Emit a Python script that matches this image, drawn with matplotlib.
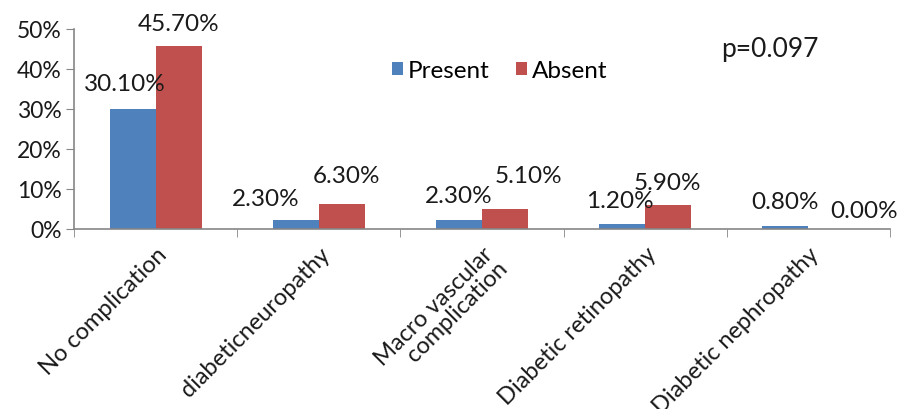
import matplotlib.pyplot as plt
import numpy as np

categories = ['No complication', 'diabeticneuropathy', 'Macro vascular\ncomplication',
              'Diabetic retinopathy', 'Diabetic nephropathy']
present = [30.1, 2.3, 2.3, 1.2, 0.8]
absent = [45.7, 6.3, 5.1, 5.9, 0.0]

# label nudges in pixels (dx, dy) from the top of each bar
present_off = [(-8, 25), (-30, 21), (0, 24), (-2, 24), (0, 24)]
absent_off = [(0, 23), (5, 28), (23, 33), (-1, 23), (33, 19)]

plt.rcParams['font.family'] = ['Lato', 'DejaVu Sans']

blue = '#4F81BD'
red = '#C0504D'
grey = '#868686'
txt = '#1a1a1a'

fig = plt.figure(figsize=(8.98, 4.10), dpi=100)
ax = fig.add_axes([74 / 898, 1 - 230 / 410, (890 - 74) / 898, 200 / 410])

x = np.arange(len(categories))
w = 0.282
ax.bar(x - w / 2, present, w, color=blue, label='Present')
ax.bar(x + w / 2, absent, w, color=red, label='Absent')

for xi, v, off in zip(x - w / 2, present, present_off):
    ax.annotate('%.2f%%' % v, (xi, v), xytext=off, textcoords='offset pixels',
                ha='center', va='center', fontsize=17.5, color=txt)
for xi, v, off in zip(x + w / 2, absent, absent_off):
    ax.annotate('%.2f%%' % v, (xi, v), xytext=off, textcoords='offset pixels',
                ha='center', va='center', fontsize=17.5, color=txt)

ax.set_xlim(-0.5, len(categories) - 0.5)
ax.set_ylim(0, 50)
ax.set_yticks(np.arange(0, 51, 10))
ax.set_yticklabels(['%d%%' % t for t in range(0, 51, 10)], fontsize=16.5, color=txt)

ax.set_xticks(x)
ax.set_xticklabels(categories, rotation=45, ha='right', va='top',
                   rotation_mode='anchor', fontsize=17, linespacing=0.95, color=txt)
ax.set_xticks(np.arange(-0.5, len(categories), 1), minor=True)
ax.tick_params(axis='x', which='major', length=0, pad=10)
ax.tick_params(axis='x', which='minor', length=6, color=grey, direction='out')
ax.tick_params(axis='y', length=6, color=grey, direction='out', pad=3)

for s in ['top', 'right']:
    ax.spines[s].set_visible(False)
for s in ['left', 'bottom']:
    ax.spines[s].set_color(grey)
    ax.spines[s].set_linewidth(1.2)

leg = ax.legend(loc='center left', ncol=2, frameon=False,
                fontsize=17.5, handlelength=0.45, handleheight=0.45, handletextpad=0.2,
                columnspacing=1.1, borderaxespad=0, borderpad=0)
leg.set_bbox_to_anchor((392 / 898, 1 - 72 / 410), transform=fig.transFigure)

fig.text(770 / 898, 1 - 50 / 410, 'p=0.097', fontsize=19, ha='center', va='center',
         color=txt)

fig.savefig('out.png', dpi=100)
